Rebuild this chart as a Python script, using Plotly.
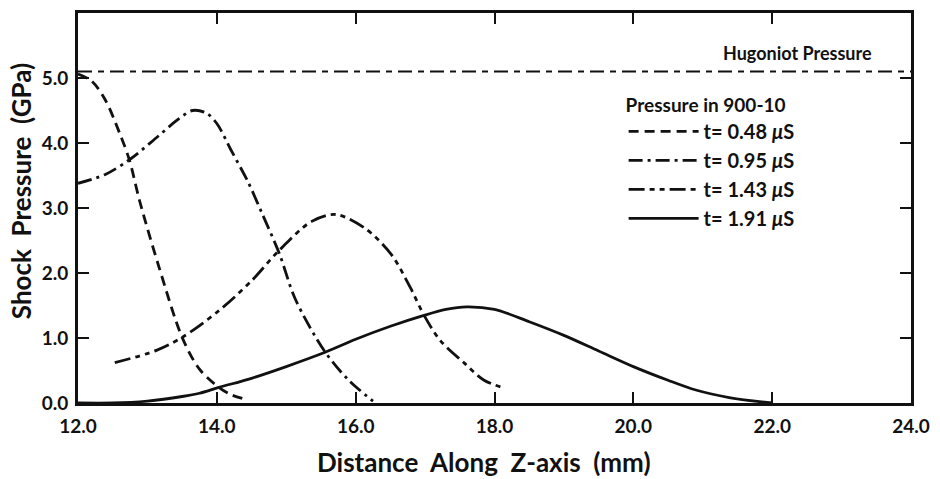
import plotly.graph_objects as go

# Shock pressure profiles along the Z-axis in 900-10 at four times
x_048 = [12.0, 12.2, 12.39, 12.6, 12.74, 12.89, 13.17, 13.5, 13.75, 14.03, 14.2, 14.4]
y_048 = [5.06, 4.95, 4.67, 4.15, 3.74, 3.10, 2.08, 1.01, 0.52, 0.24, 0.13, 0.06]

x_095 = [12.0, 12.4, 12.75, 13.15, 13.45, 13.65, 13.85, 14.0, 14.2, 14.45, 14.65, 14.9, 15.13, 15.55, 15.9, 16.25]
y_095 = [3.38, 3.52, 3.75, 4.10, 4.37, 4.50, 4.46, 4.30, 3.90, 3.40, 2.92, 2.30, 1.60, 0.80, 0.35, 0.03]

x_143 = [12.53, 13.13, 13.5, 14.03, 14.5, 14.89, 15.36, 15.71, 16.13, 16.51, 16.79, 16.99, 17.22, 17.57, 17.85, 18.14]
y_143 = [0.62, 0.81, 1.01, 1.42, 1.88, 2.34, 2.79, 2.90, 2.69, 2.29, 1.77, 1.34, 0.96, 0.61, 0.35, 0.23]

x_191 = [12.0, 12.5, 13.0, 13.5, 13.75, 14.03, 14.5, 15.0, 15.56, 16.0, 16.5, 16.96, 17.3, 17.6, 18.0, 18.5, 19.0, 19.5, 20.0, 20.5, 20.9, 21.4, 22.0]
y_191 = [0.0, 0.0, 0.03, 0.10, 0.15, 0.24, 0.38, 0.56, 0.78, 0.98, 1.18, 1.34, 1.44, 1.48, 1.44, 1.25, 1.04, 0.80, 0.56, 0.35, 0.20, 0.08, 0.0]

hugoniot_x = [12.0, 24.0]
hugoniot_y = [5.1, 5.1]

x_ticks = [12, 14, 16, 18, 20, 22, 24]
y_ticks = [0, 1, 2, 3, 4, 5]

FONT = "Lato"
INK = "#111111"

fig = go.Figure()

fig.add_trace(go.Scatter(
    x=hugoniot_x, y=hugoniot_y, mode="lines", showlegend=False,
    line=dict(color=INK, width=2.2, dash="14px,6px,6px,6px"),
))

series = [
    (x_048, y_048, "t= 0.48 <i>μ</i>S", "10px,6px"),
    (x_095, y_095, "t= 0.95 <i>μ</i>S", "14px,5px,3px,5px"),
    (x_143, y_143, "t= 1.43 <i>μ</i>S", "16px,5px,5px,5px,5px,5px"),
    (x_191, y_191, "t= 1.91 <i>μ</i>S", "solid"),
]
for xs, ys, name, dash in series:
    fig.add_trace(go.Scatter(
        x=xs, y=ys, mode="lines", name=name,
        line=dict(color=INK, width=2.8, dash=dash, shape="spline", smoothing=0.9),
    ))

axis_common = dict(
    showgrid=False, zeroline=False, showline=True, linecolor=INK, linewidth=3,
    mirror="allticks", ticks="inside", ticklen=11, tickwidth=2, tickcolor=INK,
    tickfont=dict(family=FONT, size=19, color=INK, weight="bold"),
)

fig.update_xaxes(range=[12, 24], tickvals=x_ticks, ticktext=[f"{v:.1f}" for v in x_ticks], ticklabelstandoff=4, **axis_common)
fig.update_yaxes(range=[0, 6], tickvals=y_ticks, ticktext=[f"{v:.1f}" for v in y_ticks], ticklabelstandoff=3, **axis_common)

fig.add_annotation(
    x=22.36, y=5.1, xref="x", yref="y", yanchor="bottom", yshift=5,
    text="Hugoniot Pressure", showarrow=False,
    font=dict(family=FONT, size=18, color=INK, weight="bold"),
)
fig.add_annotation(
    x=0.487, y=-0.105, xref="paper", yref="paper", xanchor="center", yanchor="top",
    text="Distance  Along  Z-axis  (mm)", showarrow=False,
    font=dict(family=FONT, size=26, color=INK, weight="bold"),
)
fig.add_annotation(
    x=-0.069, y=0.542, xref="paper", yref="paper", xanchor="center", yanchor="middle",
    text="Shock  Pressure  (GPa)", textangle=-90, showarrow=False,
    font=dict(family=FONT, size=26, color=INK, weight="bold"),
)

fig.update_layout(
    width=940, height=479,
    margin=dict(l=78, r=23, t=10, b=76),
    paper_bgcolor="white", plot_bgcolor="white",
    showlegend=True,
    legend=dict(
        x=0.655, y=0.81, xanchor="left", yanchor="top",
        bgcolor="rgba(0,0,0,0)", borderwidth=0,
        itemwidth=70, tracegroupgap=0,
        title=dict(text="Pressure in 900-10", font=dict(family=FONT, size=19, color=INK, weight="bold")),
        font=dict(family=FONT, size=20, color=INK, weight="bold"),
    ),
)

fig.write_html("out.html")
